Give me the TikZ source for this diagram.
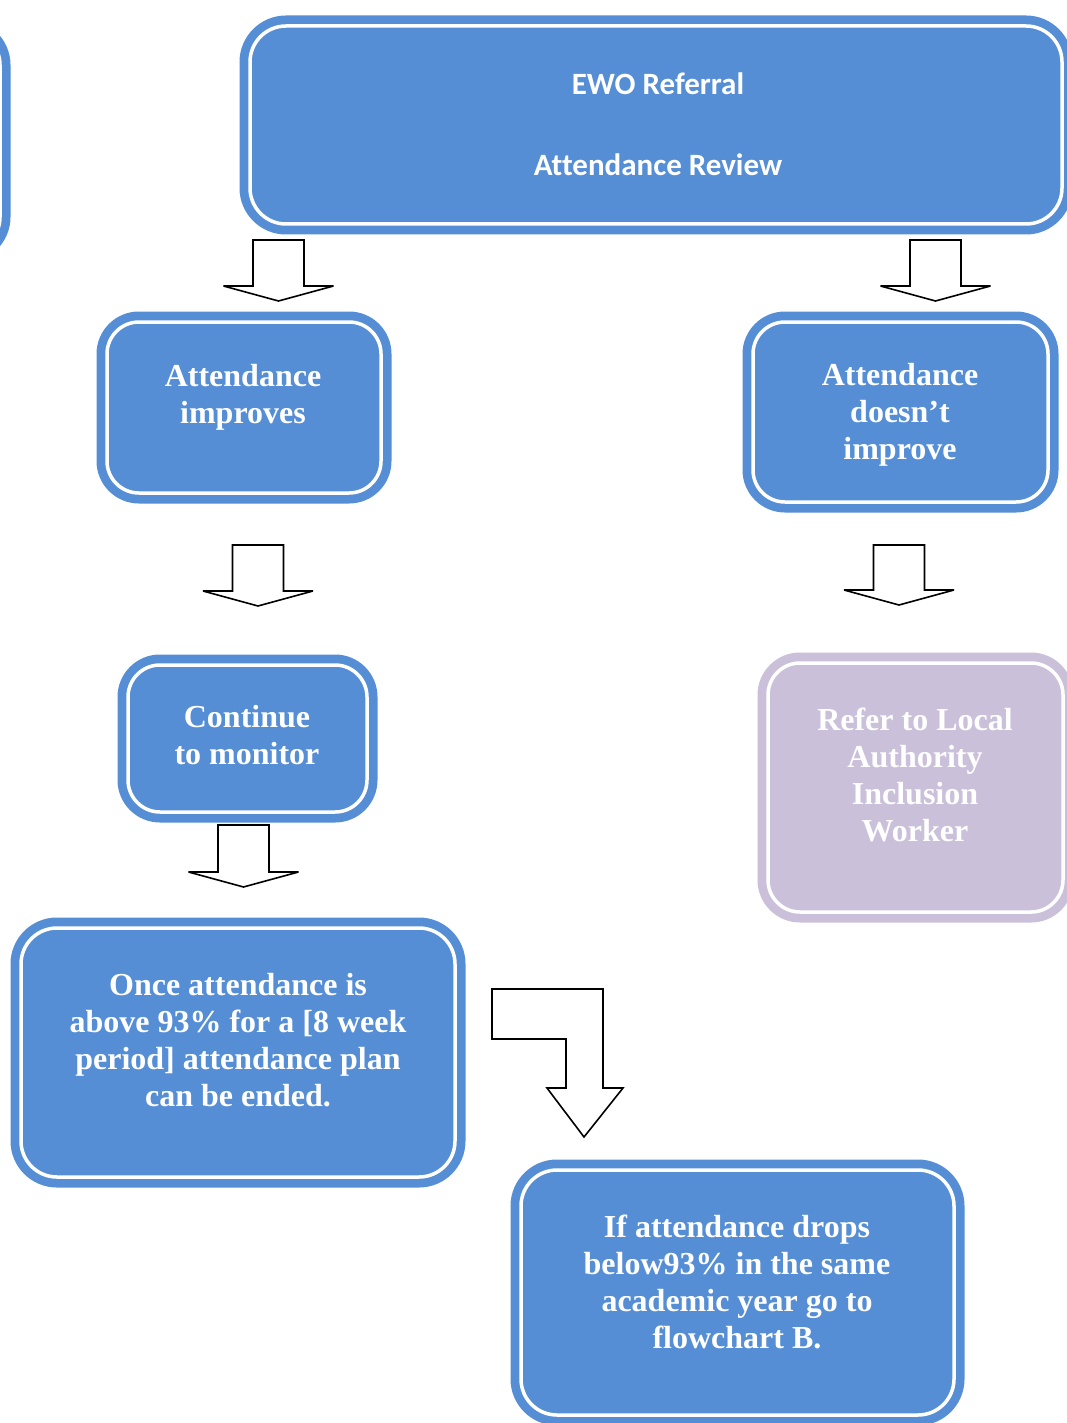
\documentclass[tikz,border=0pt]{standalone}
\usepackage{fontspec}
\setmainfont{Liberation Serif}
\newfontfamily\calib[Ligatures={NoCommon}]{Carlito}
\definecolor{boxblue}{HTML}{558ED5}
\definecolor{boxpurple}{HTML}{CBC0DA}
\tikzset{
  basebox/.style={rectangle, rounded corners=32pt, inner sep=0pt, outer sep=0pt, draw=white, line width=3.5pt},
  bluebox/.style={basebox, fill=boxblue, preaction={draw=boxblue, line width=21pt}},
  purplebox/.style={basebox, fill=boxpurple, preaction={draw=boxpurple, line width=21pt}},
  txt/.style={text=white, align=center, inner sep=0pt, font=\bfseries\fontsize{32}{37}\selectfont},
  ctxt/.style={text=white, align=center, inner sep=0pt, font=\calib\bfseries\fontsize{31}{37}\selectfont},
  blockarrow/.style={draw=black, fill=white, line width=1.6pt, line join=miter, miter limit=3}
}
\newcommand{\downblock}[4]{% cx, ytop, ybase, ytip
  \draw[blockarrow] (#1-25.5,#2) -- (#1+25.5,#2) -- (#1+25.5,#3) -- (#1+55,#3) -- (#1,#4) -- (#1-55,#3) -- (#1-25.5,#3) -- cycle;}
\begin{document}
\begin{tikzpicture}[x=1pt,y=-1pt]
\useasboundingbox (0,0) rectangle (1067,1423);
\clip (0,0) rectangle (1067,1423);
\fill[white] (0,0) rectangle (1067,1423);

% partial box at left edge
\node[bluebox, rounded corners=35pt, minimum width=400pt, minimum height=222pt] (leftbox) at (-200,141) {};

% top box
\node[bluebox, rounded corners=36pt, minimum width=812pt, minimum height=198pt] (ewo) at (656,125) {};
\node[ctxt] (ewo1) at (658,84) {EWO Referral};
\node[ctxt] (ewo2) at (658,165) {Attendance Review};

% attendance improves
\node[bluebox, minimum width=274pt, minimum height=171pt] (imp) at (244,407.5) {};
\node[txt] (impt) at (243,397) {Attendance\\improves};

% attendance doesn't improve
\node[bluebox, minimum width=295pt, minimum height=180pt] (nimp) at (900.5,412) {};
\node[txt] (nimpt) at (900,415) {Attendance\\doesn’t\\improve};

% continue to monitor
\node[bluebox, minimum width=239pt, minimum height=147pt] (mon) at (247.5,738.5) {};
\node[txt] (mont) at (247,735.5) {Continue\\to monitor};

% refer to local authority
\node[purplebox, minimum width=295pt, minimum height=249pt] (refer) at (915.5,787.5) {};
\node[txt] (refert) at (915,775) {Refer to Local\\Authority\\Inclusion\\Worker};

% once attendance
\node[bluebox, rounded corners=36pt, minimum width=434pt, minimum height=249pt] (once) at (238,1052.5) {};
\node[txt] (oncet) at (238,1040) {Once attendance is\\above 93\% for a [8 week\\period] attendance plan\\can be ended.};

% if attendance drops
\node[bluebox, rounded corners=36pt, minimum width=433pt, minimum height=245pt] (drops) at (737.5,1292.5) {};
\node[txt] (dropst) at (737,1282) {If attendance drops\\below93\% in the same\\academic year go to\\flowchart B.};

% block arrows
\downblock{278.5}{240}{286}{301}
\downblock{935.5}{240}{286}{301}
\downblock{258}{545}{591}{606}
\downblock{899}{545}{590}{605}
\downblock{243.5}{825}{872}{887}

% bent arrow
\draw[blockarrow] (492,989) -- (603,989) -- (603,1088) -- (623,1088) -- (584,1137) -- (547,1088) -- (566,1088) -- (566,1039) -- (492,1039) -- cycle;
\end{tikzpicture}
\end{document}
